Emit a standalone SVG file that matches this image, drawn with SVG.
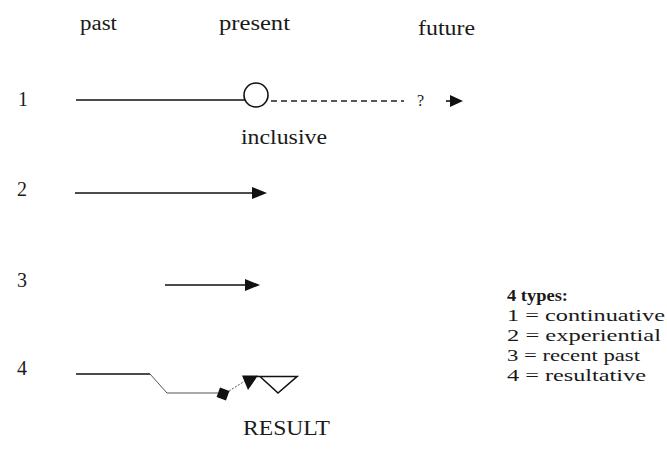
<svg xmlns="http://www.w3.org/2000/svg" width="667" height="460" viewBox="0 0 667 460">
<style>
text{font-family:"Liberation Serif","Times New Roman",serif;fill:#1a1a1a;font-size:20px}
.b{font-weight:bold}
.lg{font-size:17px}
.ln{stroke:#111;stroke-width:1.6;fill:none}
.thin{stroke:#555;stroke-width:1;fill:none}
.dash{stroke:#222;stroke-width:1.3;fill:none;stroke-dasharray:6 4}
.ah{fill:#111;stroke:none}
</style>
<rect width="667" height="460" fill="#fff"/>
<g id="header">
<text x="80" y="30" textLength="37" lengthAdjust="spacingAndGlyphs">past</text>
<text x="219" y="30" textLength="71" lengthAdjust="spacingAndGlyphs">present</text>
<text x="418" y="35" textLength="57" lengthAdjust="spacingAndGlyphs">future</text>
</g>
<g id="row-numbers">
<text x="18" y="106">1</text>
<text x="17" y="196">2</text>
<text x="17" y="287">3</text>
<text x="17" y="375">4</text>
</g>
<g id="node-present-circle">
<circle cx="256" cy="95" r="12" fill="#fff" stroke="#111" stroke-width="1.6"/>
</g>
<g id="node-inclusive">
<text x="241" y="144" textLength="86" lengthAdjust="spacingAndGlyphs">inclusive</text>
</g>
<g id="node-question">
<text x="417" y="106" style="font-size:16px">?</text>
</g>
<g id="node-result-marks">
<rect x="218" y="389" width="10" height="10" fill="#111" transform="rotate(20 223 394)"/>
<polygon class="ah" points="242,375.5 258,375.5 248,390"/>
<polyline class="ln" points="257,376.5 297,376.5 278,393 260,376.5"/>
</g>
<g id="node-result-label">
<text x="243" y="435" textLength="87" lengthAdjust="spacingAndGlyphs">RESULT</text>
</g>
<g id="connectors">
<line class="ln" x1="76" y1="100" x2="245" y2="100"/>
<line class="dash" x1="271" y1="101" x2="404" y2="101"/>
<line class="ln" x1="446" y1="101" x2="452" y2="101"/>
<polygon class="ah" points="450,95 463,101 450,107"/>
<line class="ln" x1="75" y1="193" x2="254" y2="193"/>
<polygon class="ah" points="252,187 267,193 252,199"/>
<line class="ln" x1="165" y1="285" x2="247" y2="285"/>
<polygon class="ah" points="245,279 260,285 245,291"/>
<line class="ln" x1="76" y1="374" x2="150" y2="374"/>
<polyline class="thin" points="150,374 167,393 218,393"/>
<line class="thin" x1="229" y1="391" x2="245" y2="381" stroke-dasharray="2 1.5"/>
</g>
<g id="legend">
<text class="lg b" x="507" y="301" textLength="61" lengthAdjust="spacingAndGlyphs">4 types:</text>
<text class="lg" x="507" y="321" textLength="158" lengthAdjust="spacingAndGlyphs">1 = continuative</text>
<text class="lg" x="507" y="341" textLength="154" lengthAdjust="spacingAndGlyphs">2 = experiential</text>
<text class="lg" x="507" y="361" textLength="133" lengthAdjust="spacingAndGlyphs">3 = recent past</text>
<text class="lg" x="507" y="381" textLength="139" lengthAdjust="spacingAndGlyphs">4 = resultative</text>
</g>
</svg>
